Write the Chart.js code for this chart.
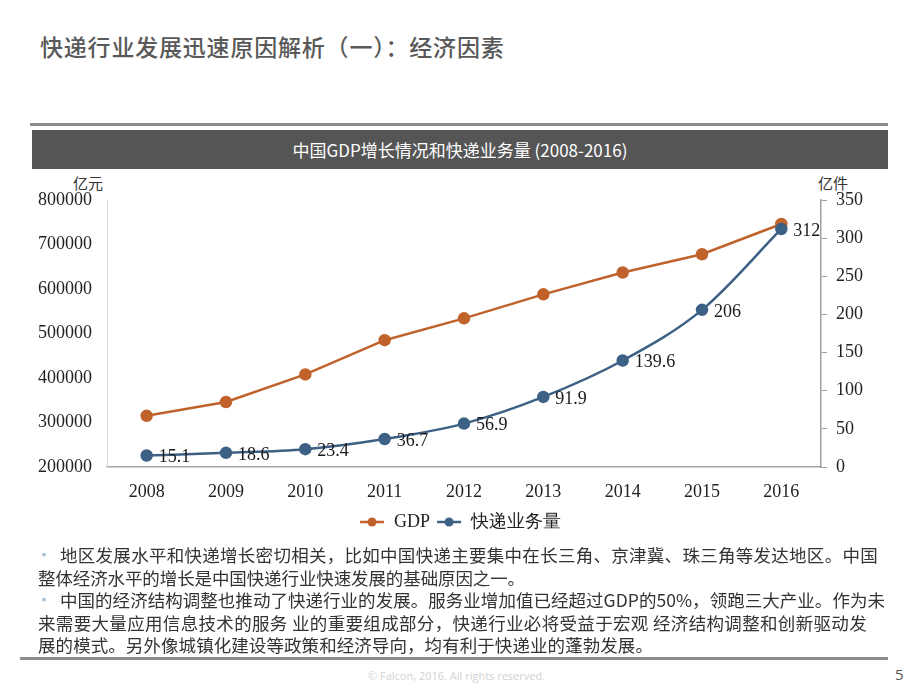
<!DOCTYPE html>
<html>
<head>
<meta charset="utf-8">
<script src="https://cdn.jsdelivr.net/npm/chart.js@4/dist/chart.umd.min.js"></script>
<style>
  body { margin: 0; background: #fff; }
  #slide { position: relative; width: 920px; height: 690px; overflow: hidden; background: #fff; font-family: "Noto Sans CJK SC", sans-serif; }
  .titre { position: absolute; left: 40px; top: 29px; font-size: 23px; letter-spacing: 0.8px; color: #595959; font-weight: 500; white-space: nowrap; }
  .ligneHaut { position: absolute; left: 30px; top: 123px; width: 858px; height: 3px; background: #8c8c8c; }
  .bandeau { position: absolute; left: 32px; top: 130px; width: 856px; height: 39px; background: #555; color: #fff; font-size: 17px; line-height: 39px; text-align: center; white-space: nowrap; }
  .unite { position: absolute; top: 172px; font-size: 15px; color: #333; }
  #zoneGraphique { position: absolute; left: 0; top: 172px; width: 920px; height: 372px; }
  .texte { position: absolute; left: 38px; top: 544px; font-size: 17.5px; color: #333; white-space: nowrap; }
  .texte div { height: 22.6px; line-height: 22.6px; position: relative; }
  .puce { position: absolute; left: 0; top: 0; color: #a9c1d3; font-size: 12px; }
  .ligneBas { position: absolute; left: 20px; top: 657px; width: 868px; height: 3px; background: #8c8c8c; }
  .pied { position: absolute; left: 368px; top: 668px; font-size: 11px; color: #d2d2d2; font-family: "Open Sans", sans-serif; }
  .page { position: absolute; left: 895px; top: 664px; font-size: 15px; color: #555; font-family: "Open Sans", sans-serif; }
</style>
</head>
<body>
<div id="slide">
  <div class="titre">快递行业发展迅速原因解析（一）：经济因素</div>
  <div class="ligneHaut"></div>
  <div class="bandeau">中国GDP增长情况和快递业务量 (2008-2016)</div>
  <div class="unite" style="left:73px;">亿元</div>
  <div class="unite" style="left:818px;">亿件</div>
  <div id="zoneGraphique"><canvas id="gdpChart"></canvas></div>
  <div class="texte">
    <div><span class="puce">▪</span><span class="ligne" data-debut="22" data-fin="840">地区发展水平和快递增长密切相关，比如中国快递主要集中在长三角、京津冀、珠三角等发达地区。中国</span></div>
    <div><span class="ligne" data-debut="0" data-fin="487">整体经济水平的增长是中国快递行业快速发展的基础原因之一。</span></div>
    <div><span class="puce">▪</span><span class="ligne" data-debut="22" data-fin="847">中国的经济结构调整也推动了快递行业的发展。服务业增加值已经超过GDP的50%，领跑三大产业。作为未</span></div>
    <div><span class="ligne" data-debut="0" data-fin="829">来需要大量应用信息技术的服务 业的重要组成部分，快递行业必将受益于宏观 经济结构调整和创新驱动发</span></div>
    <div><span class="ligne" data-debut="0" data-fin="615">展的模式。另外像城镇化建设等政策和经济导向，均有利于快递业的蓬勃发展。</span></div>
  </div>
  <div class="ligneBas"></div>
  <div class="pied">© Falcon, 2016. All rights reserved.</div>
  <div class="page">5</div>
</div>

<script>
// Données du graphique
const annees = ['2008', '2009', '2010', '2011', '2012', '2013', '2014', '2015', '2016'];
const valeursGDP = [315000, 346000, 408000, 485000, 534000, 588000, 637000, 678000, 746000];
const valeursExpress = [15.1, 18.6, 23.4, 36.7, 56.9, 91.9, 139.6, 206, 312];
const nomsSeries = ['GDP', '快递业务量'];
const couleurs = ['#c0622b', '#3d6185'];

const policeSerif = 'Liberation Serif, Times New Roman, serif';

// ajuster l'espacement des lignes de texte pour tomber sur la même largeur
document.querySelectorAll('.ligne').forEach(el => {
    const debut = +el.dataset.debut;
    const fin = +el.dataset.fin;
    el.style.position = 'absolute';
    el.style.left = debut + 'px';
    const largeur = el.getBoundingClientRect().width;
    const n = el.textContent.length;
    el.style.letterSpacing = ((fin - debut - largeur) / n) + 'px';
});

// petit symbole ligne + point pour la légende
function symboleLegende(couleur) {
    const c = document.createElement('canvas');
    c.width = 26; c.height = 12;
    const g = c.getContext('2d');
    g.strokeStyle = couleur;
    g.lineWidth = 2.5;
    g.beginPath(); g.moveTo(1, 6); g.lineTo(25, 6); g.stroke();
    g.fillStyle = couleur;
    g.beginPath(); g.arc(13, 6, 4.5, 0, Math.PI * 2); g.fill();
    return c;
}

// étiquettes de valeurs à droite des points bleus
const etiquettesValeurs = {
    id: 'etiquettesValeurs',
    afterDatasetsDraw(chart) {
        const ctx = chart.ctx;
        const meta = chart.getDatasetMeta(1);
        ctx.save();
        ctx.font = '18px ' + policeSerif;
        ctx.fillStyle = '#1a1a1a';
        ctx.textAlign = 'left';
        ctx.textBaseline = 'middle';
        meta.data.forEach((pt, i) => {
            ctx.fillText(String(valeursExpress[i]), pt.x + 12, pt.y + 2);
        });
        ctx.restore();
    }
};

const ctx = document.getElementById('gdpChart').getContext('2d');
new Chart(ctx, {
    type: 'line',
    data: {
        labels: annees,
        datasets: [{
            label: nomsSeries[0],
            data: valeursGDP,
            yAxisID: 'yGDP',
            borderColor: couleurs[0],
            backgroundColor: couleurs[0],
            borderWidth: 2.5,
            pointRadius: 5,
            pointHoverRadius: 5,
            tension: 0,
            order: 1
        }, {
            label: nomsSeries[1],
            data: valeursExpress,
            yAxisID: 'yExpress',
            borderColor: couleurs[1],
            backgroundColor: couleurs[1],
            borderWidth: 2.5,
            pointRadius: 5,
            pointHoverRadius: 5,
            cubicInterpolationMode: 'monotone',
            order: 0
        }]
    },
    options: {
        responsive: true,
        maintainAspectRatio: false,
        animation: false,
        layout: { padding: { top: 28, bottom: 3, left: 0, right: 0 } },
        plugins: {
            tooltip: { enabled: false },
            legend: {
                position: 'bottom',
                labels: {
                    usePointStyle: true,
                    pointStyleWidth: 26,
                    padding: 6,
                    color: '#222',
                    font: { family: policeSerif, size: 18 },
                    generateLabels: function (chart) {
                        return nomsSeries.map((nom, i) => ({
                            text: nom,
                            pointStyle: symboleLegende(couleurs[i]),
                            fillStyle: couleurs[i],
                            strokeStyle: couleurs[i],
                            lineWidth: 0,
                            fontColor: '#222',
                            datasetIndex: i,
                            hidden: false
                        }));
                    }
                }
            }
        },
        scales: {
            x: {
                offset: true,
                grid: { display: false, drawTicks: false },
                border: { display: true, color: '#a6a6a6', width: 1.5 },
                ticks: { color: '#222', padding: 14, maxRotation: 0, font: { family: policeSerif, size: 18 } },
                afterFit: function (scale) { scale.height = 40; }
            },
            yGDP: {
                position: 'left',
                min: 200000,
                max: 800000,
                grid: { display: false, drawTicks: false },
                border: { display: true, color: '#d9d9d9', width: 1 },
                ticks: {
                    stepSize: 100000, color: '#222', padding: 15, font: { family: policeSerif, size: 18 },
                    callback: function (v) { return String(v); }
                },
                afterFit: function (scale) { scale.width = 107; }
            },
            yExpress: {
                position: 'right',
                min: 0,
                max: 350,
                grid: { drawOnChartArea: false, drawTicks: true, tickLength: 6, color: '#a0a0a0' },
                border: { display: true, color: '#a0a0a0', width: 1.5 },
                ticks: {
                    stepSize: 50, color: '#222', padding: 9, font: { family: policeSerif, size: 18 },
                    callback: function (v) { return String(v); }
                },
                afterFit: function (scale) { scale.width = 99; }
            }
        }
    },
    plugins: [etiquettesValeurs]
});
</script>
</body>
</html>
